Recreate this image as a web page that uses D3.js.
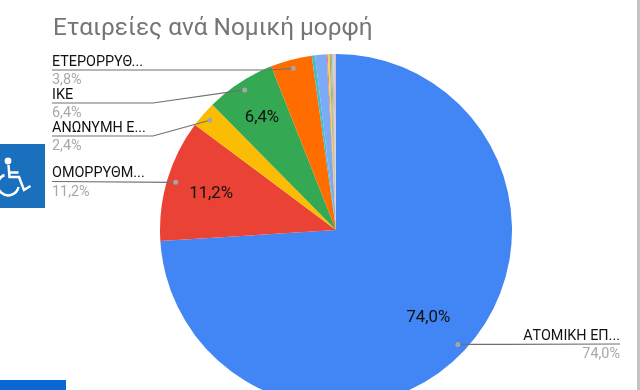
<!DOCTYPE html>
<html>
<head>
<meta charset="utf-8">
<script src="https://cdn.jsdelivr.net/npm/d3@7"></script>
<style>
    html, body { margin: 0; padding: 0; background: #fff; overflow: hidden; }
    svg { display: block; font-family: Roboto, sans-serif; filter: blur(0.5px); }
</style>
</head>
<body>
<div id="chart"></div>
<script>
var chartTitle = "Εταιρείες ανά Νομική μορφή";

/* slices, clockwise from the top */
var categories = ["ΑΤΟΜΙΚΗ ΕΠ...", "ΟΜΟΡΡΥΘΜ...", "ΑΝΩΝΥΜΗ Ε...", "ΙΚΕ", "ΕΤΕΡΟΡΡΥΘ...",
    "a", "b", "c", "d", "e", "f", "g", "h", "i"];
var values = [74.0, 11.2, 2.4, 6.4, 3.8, 0.3, 1.06, 0.1, 0.15, 0.12, 0.12, 0.1, 0.13, 0.12];
var colors = ["#4285f4", "#ea4335", "#fbbc04", "#34a853", "#ff6d01", "#46bdc6", "#7baaf7",
    "#f07b72", "#fcd04f", "#71c287", "#ff994d", "#7ed1d7", "#b3cefb", "#f7b4ae"];
var shownLabels = ["ΑΤΟΜΙΚΗ ΕΠ...", "ΟΜΟΡΡΥΘΜ...", "ΑΝΩΝΥΜΗ Ε...", "ΙΚΕ", "ΕΤΕΡΟΡΡΥΘ..."];
var insideRadius = [0.72, 0.74, 0, 0.77];

var width = 640, height = 390;
var cx = 336, cy = 230, radius = 176;

var svg = d3.select("#chart").append("svg")
    .attr("width", width)
    .attr("height", height);

function pct(v) {
    return d3.format(".1f")(v).replace(".", ",") + "%";
}

/* Title */
svg.append("text")
    .attr("x", 53)
    .attr("y", 35)
    .attr("fill", "#757575")
    .style("font-size", "24.4px")
    .text(chartTitle);

/* Pie */
var pie = d3.pie().sort(null).value(function(d) { return d; });
var arcs = pie(values);
var arc = d3.arc().innerRadius(0).outerRadius(radius);
var g = svg.append("g").attr("transform", "translate(" + [cx, cy] + ")");

g.selectAll("path")
    .data(arcs)
    .enter()
    .append("path")
    .attr("d", arc)
    .attr("fill", function(d, i) { return colors[i]; });

function pointAt(d, k) {
    var a = (d.startAngle + d.endAngle) / 2;
    return [cx + Math.sin(a) * radius * k, cy - Math.cos(a) * radius * k];
}

/* Percent inside the large slices */
arcs.forEach(function(d, i) {
    if (d.value < 5) return;
    var p = pointAt(d, insideRadius[i]);
    svg.append("text")
        .attr("x", p[0])
        .attr("y", p[1] + 5.5)
        .attr("text-anchor", "middle")
        .attr("fill", "#111")
        .style("font-size", "16.8px")
        .text(pct(d.value));
});

/* Leader lines and outside labels: name above the line, value below */
var labelLayout = [
    { side: "right", x0: 620, y: 344, knee: null },
    { side: "left", x0: 52, y: 181.5, knee: null },
    { side: "left", x0: 52, y: 136, knee: 153 },
    { side: "left", x0: 52, y: 103, knee: 153 },
    { side: "left", x0: 52, y: 70, knee: 270 }
];

shownLabels.forEach(function(name, i) {
    var d = arcs[i], l = labelLayout[i];
    var dot = pointAt(d, 0.95);
    var pts = [[l.x0, l.y]];
    if (l.knee) pts.push([l.knee, l.y]);
    pts.push(dot);

    svg.append("path")
        .attr("d", d3.line()(pts))
        .attr("fill", "none")
        .attr("stroke", "#707070")
        .attr("stroke-width", 1.2);
    svg.append("circle")
        .attr("cx", dot[0])
        .attr("cy", dot[1])
        .attr("r", 2.5)
        .attr("fill", "#a6a6a6");

    var anchor = l.side === "left" ? "start" : "end";
    svg.append("text")
        .attr("x", l.x0)
        .attr("y", l.y - 4.5)
        .attr("text-anchor", anchor)
        .attr("fill", "#111")
        .style("font-size", "14.4px")
        .text(name);
    svg.append("text")
        .attr("x", l.x0)
        .attr("y", l.y + 14)
        .attr("text-anchor", anchor)
        .attr("fill", "#a8a8a8")
        .style("font-size", "14.4px")
        .text(pct(values[i]));
});

/* Accessibility button on the left edge */
svg.append("rect").attr("x", 0).attr("y", 144).attr("width", 45).attr("height", 64).attr("fill", "#1a70bd");
svg.append("circle").attr("cx", 8).attr("cy", 161).attr("r", 3.4).attr("fill", "#fff");
svg.append("path")
    .attr("d", "M8.5 165 L9.5 177 L19 177 L24 190 L30.5 186 M9 172.5 L18.5 172.5 M4.5 175 A10.5 10.5 0 1 0 18.5 187")
    .attr("fill", "none")
    .attr("stroke", "#fff")
    .attr("stroke-width", 2.5);

/* Bottom edge button and page scrollbar */
svg.append("rect").attr("x", 0).attr("y", 380).attr("width", 66).attr("height", 10).attr("fill", "#0a68d6");
svg.append("rect").attr("x", 637).attr("y", 0).attr("width", 3).attr("height", height).attr("fill", "#c4c4c4");
</script>
</body>
</html>
